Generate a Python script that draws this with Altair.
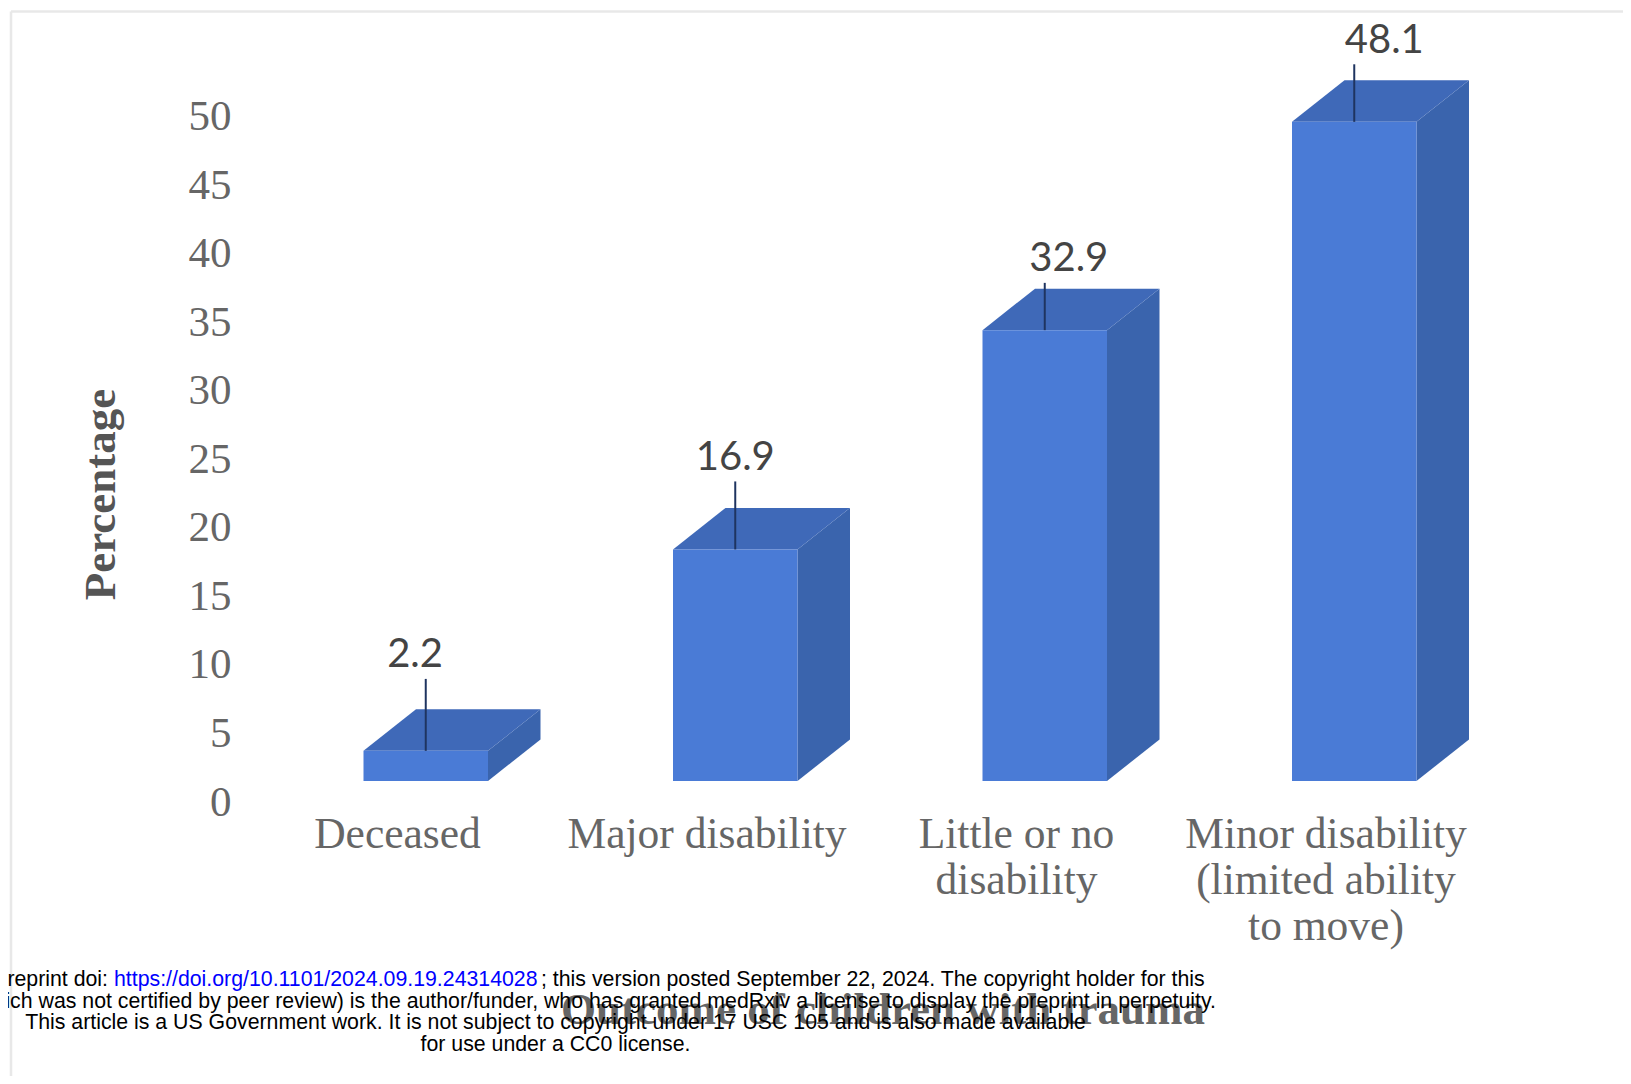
import altair as alt
import pandas as pd

categories = ["Deceased", "Major disability", "Little or no\ndisability", "Minor disability\n(limited ability\nto move)"]
values = [2.2, 16.9, 32.9, 48.1]
value_labels = ["2.2", "16.9", "32.9", "48.1"]
leader_tops = [7.45, 21.86, 36.35, 52.3]
y_ticks = [0, 5, 10, 15, 20, 25, 30, 35, 40, 45, 50]
footer_lines = [
    "preprint doi:",
    "https://doi.org/10.1101/2024.09.19.24314028",
    "; this version posted September 22, 2024. The copyright holder for this",
    "ich was not certified by peer review) is the author/funder, who has granted medRxiv a license to display the preprint in perpetuity.",
    "This article is a US Government work. It is not subject to copyright under 17 USC 105 and is also made available",
    "for use under a CC0 license.",
]
caption = "Outcome of children with trauma"

# layout, in page pixels
PLOT_L, PLOT_T, PLOT_W, PLOT_H = 240, 41, 1240, 740
PAGE_W, PAGE_H = 1615, 1068
STEP = 309.5
LABEL0 = 397
PX = lambda px: px / STEP
X_DOMAIN = [(PLOT_L - LABEL0) / STEP, (PLOT_L + PLOT_W - LABEL0) / STEP]
Y_DOMAIN = [0, 54]
UNIT = PLOT_H / Y_DOMAIN[1]
FRONT_L, FRONT_W = PX(363.5 - LABEL0), PX(124.5)
DEPTH_X, DEPTH_Y = PX(52.5), 41.5 / UNIT
LABEL_SHIFT = [-10.7, 0, 24, 30]
TICK_SHIFT = 21

SERIF = "Liberation Serif"
FRONT, TOP, SIDE = "#4a7bd6", "#3f69b8", "#3a64ad"

front, side, top, leader = [], [], [], []
for i, (cat, v, lab, lt, ls) in enumerate(zip(categories, values, value_labels, leader_tops, LABEL_SHIFT)):
    l = i + FRONT_L
    r = l + FRONT_W
    c = (l + r) / 2
    front.append(dict(cat=cat, x=l, x2=r, y=0, y2=v))
    side += [dict(cat=cat, x=r, y=v, y2=0), dict(cat=cat, x=r + DEPTH_X, y=v + DEPTH_Y, y2=DEPTH_Y)]
    top += [
        dict(cat=cat, x=l, y=v, y2=v),
        dict(cat=cat, x=l + DEPTH_X, y=v + DEPTH_Y, y2=v),
        dict(cat=cat, x=r, y=v + DEPTH_Y, y2=v),
        dict(cat=cat, x=r + DEPTH_X, y=v + DEPTH_Y, y2=v + DEPTH_Y),
    ]
    leader.append(dict(cat=cat, x=c, y=v, y2=lt, lx=c + PX(ls), label=lab))

label_expr = "split([" + ",".join('"' + c.replace("\n", "|") + '"' for c in categories) + "][datum.value], '|')"

xs = alt.Scale(domain=X_DOMAIN, nice=False, zero=False)
ys = alt.Scale(domain=Y_DOMAIN, nice=False, zero=False)
x_axis = alt.Axis(
    values=list(range(len(categories))), labelExpr=label_expr, grid=False, domain=False, ticks=False,
    labelFont=SERIF, labelFontSize=43.5, labelColor="#666666", labelLineHeight=46, labelLimit=800,
    labelPadding=32, labelBaseline="top", labelAlign="center", labelOverlap=False, labelFlush=False)
y_axis = alt.Axis(
    values=y_ticks, grid=False, domain=False, ticks=False, format="d",
    labelFont=SERIF, labelFontSize=43, labelColor="#666666", labelPadding=9,
    labelOffset=TICK_SHIFT, labelOverlap=False, labelFlush=False,
    titleFont=SERIF, titleFontSize=45, titleFontWeight="bold", titleColor="#555555",
    titleX=100 - PLOT_L, titleY=494 - PLOT_T, titleAngle=270,
    titleAlign="center", titleBaseline="middle")


def X(field="x:Q"):
    return alt.X(field, scale=xs, title=None, axis=x_axis)


def Y(field="y:Q"):
    return alt.Y(field, scale=ys, title="Percentage", axis=y_axis, stack=None)


base = alt.Chart(pd.DataFrame(front)).mark_rect(color=FRONT).encode(x=X(), x2="x2:Q", y=Y(), y2="y2:Q")
side_l = alt.Chart(pd.DataFrame(side)).mark_area(color=SIDE, orient="vertical").encode(
    x=X(), y=Y(), y2="y2:Q", detail="cat:N")
top_l = alt.Chart(pd.DataFrame(top)).mark_area(color=TOP, orient="vertical").encode(
    x=X(), y=Y(), y2="y2:Q", detail="cat:N")
lead = pd.DataFrame(leader)
rule_l = alt.Chart(lead).mark_rule(color="#1f3460", strokeWidth=2).encode(x=X(), y=Y(), y2="y2:Q")
label_l = alt.Chart(lead).mark_text(font="Lato", fontSize=40, color="#444444", dy=-23.5, baseline="middle").encode(
    x=X("lx:Q"), y=Y("y2:Q"), text="label:N")


def page_text(text, x, y, font="Liberation Sans", size=21.3, color="#000000", align="left", weight="normal"):
    return alt.Chart(pd.DataFrame({"t": [text]})).mark_text(
        font=font, fontSize=size, color=color, align=align, baseline="middle", fontWeight=weight
    ).encode(x=alt.value(x - PLOT_L), y=alt.value(y - PLOT_T), text="t:N")


def frame(x, x2, y, y2):
    return alt.Chart(pd.DataFrame({"a": [0]})).mark_rule(color="#e8e8e8", strokeWidth=2.5).encode(
        x=alt.value(x - PLOT_L), x2=alt.value(x2 - PLOT_L), y=alt.value(y - PLOT_T), y2=alt.value(y2 - PLOT_T))


layers = [
    frame(11, 1631, 11.5, 11.5),
    frame(11, 11, 11.5, 1084),
    side_l, top_l, base, rule_l, label_l,
    page_text(caption, 883, 1010, font=SERIF, size=45, color="#666666", align="center", weight="bold"),
    page_text(footer_lines[0], 108, 980, align="right"),
    page_text(footer_lines[1], 114, 980, color="#0000ff"),
    page_text(footer_lines[2], 541, 980),
    page_text(footer_lines[3], 1216, 1002, align="right"),
    page_text(footer_lines[4], 555.5, 1023, align="center"),
    page_text(footer_lines[5], 555.5, 1045, align="center"),
]

chart = alt.layer(*layers).properties(
    width=PLOT_W, height=PLOT_H,
    autosize=alt.AutoSizeParams(type="none"),
    padding={"left": PLOT_L - 8, "top": PLOT_T - 8, "right": PAGE_W - (PLOT_L - 8) - PLOT_W, "bottom": PAGE_H - (PLOT_T - 8) - PLOT_H},
    background="#ffffff",
).configure_view(stroke=None)

chart.save("out.html", embed_options={"renderer": "svg", "actions": False})
